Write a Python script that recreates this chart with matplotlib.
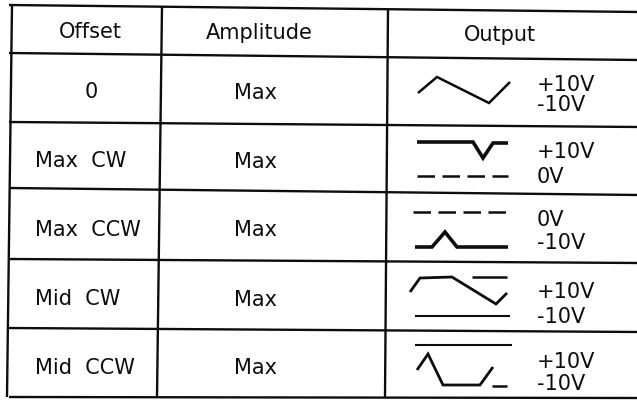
import matplotlib
matplotlib.use("Agg")
import matplotlib.pyplot as plt

# ---- table content ----
headers = ["Offset", "Amplitude", "Output"]
offsets = ["0", "Max  CW", "Max  CCW", "Mid  CW", "Mid  CCW"]
amplitudes = ["Max", "Max", "Max", "Max", "Max"]
out_top = ["+10V", "+10V", "0V", "+10V", "+10V"]
out_bot = ["-10V", "0V", "-10V", "-10V", "-10V"]

# ---- waveform sketches (t: 0..100 across glyph, v: units up from row centre) ----
# row 1: triangle wave
w1_t = [8, 27, 79, 100]
w1_v = [-2.5, 13.5, -12.5, 8.5]
# row 2: clipped at +10V with dip, dashed 0V reference
w2_t = [7, 63, 73, 83, 98]
w2_v = [17.5, 17.5, 1.5, 16.5, 16.5]
w2_ref_t = [7, 98]
w2_ref_v = [-16.5, -16.5]
# row 3: clipped at -10V with peak, dashed 0V reference
w3_t = [5, 22, 35, 47, 98]
w3_v = [-19, -19, -4, -19, -19]
w3_ref_t = [3, 98]
w3_ref_v = [16, 16]
# row 4: offset up, partly clipped, -10V reference line
w4_t = [0, 10, 42, 86, 97]
w4_v = [4.5, 18.5, 19.5, -7.5, 3.5]
w4_clip_t = [62, 97]
w4_clip_v = [19.5, 19.5]
w4_ref_t = [5, 100]
w4_ref_v = [-19.5, -19.5]
# row 5: offset down, partly clipped, +10V reference line
w5_t = [7, 18, 33, 70, 83]
w5_v = [-6, 10, -21, -21, -3]
w5_clip_t = [82, 97]
w5_clip_v = [-22, -22]
w5_ref_t = [5, 102]
w5_ref_v = [19, 19]

# label vertical offsets (units up from row centre)
lab_top_v = [5.5, 7.5, 8, 4.5, 2]
lab_bot_v = [-14.5, -17.5, -15, -20.5, -20]

# ---- layout (scanned table is slightly skewed) ----
W, H = 637, 400
fig = plt.figure(figsize=(W / 100, H / 100), dpi=100)
ax = fig.add_axes([0, 0, 1, 1])
ax.set_xlim(0, W)
ax.set_ylim(H, 0)
ax.axis("off")

rows_left = [5, 53, 122, 188, 259, 328, 397]     # y at left border
rows_right = [12, 60, 127, 195, 263, 332, 398]   # y at right edge
cols_top = [12, 162, 388]                        # x at top
cols_bot = [7, 157, 385]                         # x at bottom
ink = "#0d0d0d"
lw_border = 1.7

for yl, yr in zip(rows_left, rows_right):
    ax.plot([9, W + 2], [yl, yr], color=ink, lw=lw_border, solid_capstyle="butt")
for xt, xb in zip(cols_top, cols_bot):
    ax.plot([xt, xb], [rows_left[0] + (xt - 9) * 0.011, rows_left[-1]],
            color=ink, lw=lw_border, solid_capstyle="butt")

font = dict(family="DejaVu Sans", color=ink)
fs = 15

# headers
ax.text(90, 32, headers[0], ha="center", va="center", fontsize=fs, **font)
ax.text(259, 33, headers[1], ha="center", va="center", fontsize=fs, **font)
ax.text(500, 35, headers[2], ha="center", va="center", fontsize=fs, **font)

left_text_y = [92.5, 161, 230, 299, 368]
centers = [90.5, 159.5, 228, 296.5, 364]   # output-cell centres
for i in range(5):
    cy = left_text_y[i]
    if offsets[i] == "0":
        ax.text(91, cy, offsets[i], ha="center", va="center", fontsize=fs, **font)
    else:
        ax.text(35, cy, offsets[i], ha="left", va="center", fontsize=fs, **font)
    ax.text(255, cy + 0.5, amplitudes[i], ha="center", va="center", fontsize=fs, **font)
    ax.text(537, centers[i] - lab_top_v[i], out_top[i], ha="left", va="center", fontsize=fs, **font)
    ax.text(537, centers[i] - lab_bot_v[i], out_bot[i], ha="left", va="center", fontsize=fs, **font)

gx = 410  # glyph left


def draw(row, t, v, lw=1.8, ls="-"):
    cy = centers[row]
    ax.plot([gx + a for a in t], [cy - b for b in v], color=ink, lw=lw, ls=ls,
            solid_joinstyle="miter", solid_capstyle="butt", dash_capstyle="butt")


dash = (0, (7, 3))
draw(0, w1_t, w1_v, lw=1.8)
draw(1, w2_t, w2_v, lw=2.6)
draw(1, w2_ref_t, w2_ref_v, lw=1.8, ls=dash)
draw(2, w3_t, w3_v, lw=2.6)
draw(2, w3_ref_t, w3_ref_v, lw=1.8, ls=dash)
draw(3, w4_t, w4_v, lw=2.0)
draw(3, w4_clip_t, w4_clip_v, lw=1.8)
draw(3, w4_ref_t, w4_ref_v, lw=1.5)
draw(4, w5_t, w5_v, lw=2.0)
draw(4, w5_clip_t, w5_clip_v, lw=1.8)
draw(4, w5_ref_t, w5_ref_v, lw=1.5)

fig.savefig("out.png", dpi=100)
